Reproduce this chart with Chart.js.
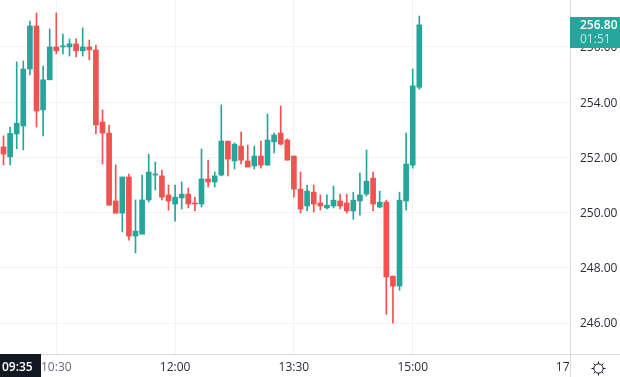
<!DOCTYPE html>
<html>
<head>
<meta charset="utf-8">
<title>Candles</title>
<script src="https://cdn.jsdelivr.net/npm/chart.js@4"></script>
<style>
  html, body { margin: 0; padding: 0; background: #fff; }
  #wrap { width: 620px; height: 377px; position: relative; }
</style>
</head>
<body>
<div id="wrap"><canvas id="chart" width="620" height="377"></canvas></div>
<script>
// 5 minute candles
const times = ['09:50','09:55','10:00','10:05','10:10','10:15','10:20','10:25','10:30','10:35','10:40','10:45','10:50','10:55','11:00','11:05',
  '11:10','11:15','11:20','11:25','11:30','11:35','11:40','11:45','11:50','11:55','12:00','12:05','12:10','12:15','12:20','12:25',
  '12:30','12:35','12:40','12:45','12:50','12:55','13:00','13:05','13:10','13:15','13:20','13:25','13:30','13:35','13:40','13:45',
  '13:50','13:55','14:00','14:05','14:10','14:15','14:20','14:25','14:30','14:35','14:40','14:45','14:50','14:55','15:00','15:05'];
const opens = [252.38,252.02,252.85,253.14,255.20,256.76,253.72,254.81,256.00,256.00,256.00,256.11,255.86,256.00,255.89,253.28,
  252.88,250.42,249.98,251.29,249.15,249.22,250.46,251.36,251.33,250.64,250.31,250.53,250.67,250.35,250.31,251.22,
  251.11,251.36,252.59,251.87,252.41,251.87,251.69,252.05,251.72,252.56,252.88,252.63,252.05,250.85,250.24,250.74,
  250.35,250.17,250.24,250.42,250.35,250.06,250.42,250.67,251.25,250.20,250.38,247.70,247.34,250.42,251.72,254.54];
const closes = [252.12,252.87,253.24,255.20,256.76,253.68,254.81,256.00,255.86,256.04,256.11,255.86,256.00,255.89,253.17,252.88,
  250.27,249.98,251.29,249.15,249.33,250.46,251.47,251.40,250.56,250.42,250.56,250.67,250.31,250.31,251.22,251.11,
  251.33,252.59,251.94,252.48,251.90,251.65,252.05,251.72,252.63,252.81,252.48,251.90,250.85,250.13,250.78,250.31,
  250.24,250.27,250.45,250.24,250.06,250.45,250.64,251.14,250.31,250.38,247.67,247.34,250.45,251.76,254.59,256.80];
const highs = [252.78,253.09,255.46,255.49,256.94,257.23,255.31,256.65,257.23,256.47,256.29,256.29,256.69,256.25,256.07,253.72,
  253.17,251.73,251.29,251.40,250.46,251.36,252.12,251.83,251.54,251.00,251.00,251.11,250.89,250.56,252.30,251.90,
  251.47,253.90,252.59,252.52,252.92,252.45,252.41,252.59,253.57,252.88,253.86,252.67,252.05,251.47,251.00,251.00,
  250.64,250.64,250.96,250.67,250.67,250.74,251.43,252.27,251.47,250.78,250.45,247.70,250.74,252.88,255.20,257.12];
const lows = [251.73,251.73,252.31,252.27,254.99,253.10,252.78,254.81,255.75,255.75,255.67,255.64,255.67,255.53,252.85,251.76,
  250.27,249.98,249.30,249.00,248.54,249.22,250.38,250.82,250.46,250.09,249.69,250.13,250.17,250.06,250.20,250.93,
  250.93,251.33,251.33,251.58,251.76,251.65,251.58,251.61,251.72,252.16,252.45,251.90,250.56,249.98,250.06,250.02,
  250.09,250.13,250.17,250.13,249.98,249.76,249.91,250.60,250.06,250.17,246.32,246.00,247.19,250.09,251.61,254.47];

const priceTicks = [246, 248, 250, 252, 254, 256];
const timeTickAt = [8, 26, 44, 62, 86];
const timeTickLabels = ['10:30', '12:00', '13:30', '15:00', '17:00'];
const lastPrice = '256.80';
const countdown = '01:51';
const crossTime = '09:35';

const UP = '#26a69a', DOWN = '#ef5350', GRID = '#f1f2f5', AXIS = '#d8dadf', TEXT = '#2a2e39';
const FONT = '"Open Sans", sans-serif';
const candleColor = times.map((t, i) => closes[i] >= opens[i] ? UP : DOWN);

// price box, crosshair time box, gear and the corner
const overlay = {
  id: 'overlay',
  afterDraw(chart) {
    const c = chart.ctx, a = chart.chartArea;
    c.save();
    c.fillStyle = '#fff';
    c.fillRect(a.right, a.bottom, 50, 23);
    c.strokeStyle = AXIS;
    c.lineWidth = 1;
    c.beginPath();
    c.moveTo(a.right + .5, a.bottom); c.lineTo(a.right + .5, 377);
    c.moveTo(a.right, a.bottom + .5); c.lineTo(620, a.bottom + .5);
    c.stroke();

    c.fillStyle = UP;
    c.fillRect(a.right, 17, 50, 31);
    c.textBaseline = 'middle';
    c.textAlign = 'left';
    c.fillStyle = '#fff';
    c.font = '600 12px ' + FONT;
    c.fillText(lastPrice, 580, 26);
    c.fillStyle = 'rgba(255,255,255,.75)';
    c.font = '12px ' + FONT;
    c.fillText(countdown, 580, 40);

    c.fillStyle = '#131722';
    c.fillRect(0, 354, 41, 23);
    c.fillStyle = '#fff';
    c.font = '600 12px ' + FONT;
    c.fillText(crossTime, 2, 368);

    // settings gear
    const gx = 598.5, gy = 368.5;
    c.strokeStyle = '#131722';
    c.beginPath();
    c.arc(gx, gy, 4.6, 0, Math.PI * 2);
    for (let k = 0; k < 8; k++) {
      const ang = k * Math.PI / 4;
      c.moveTo(gx + Math.cos(ang) * 4.6, gy + Math.sin(ang) * 4.6);
      c.lineTo(gx + Math.cos(ang) * 7, gy + Math.sin(ang) * 7);
    }
    c.stroke();
    c.restore();
  }
};

new Chart(document.getElementById('chart'), {
  type: 'bar',
  data: {
    datasets: [
      { label: 'body', data: times.map((t, i) => ({ x: i, y: [opens[i], closes[i]] })),
        backgroundColor: candleColor, barThickness: 5, minBarLength: 1 },
      { label: 'wick', data: times.map((t, i) => ({ x: i, y: [lows[i], highs[i]] })),
        backgroundColor: candleColor, barThickness: 1 }
    ]
  },
  options: {
    responsive: false,
    animation: false,
    grouped: false,
    layout: { padding: 0 },
    plugins: { legend: { display: false }, tooltip: { enabled: false }, title: { display: false } },
    scales: {
      x: {
        type: 'linear', offset: false, min: -0.53, max: 85.83,
        afterBuildTicks: s => { s.ticks = timeTickAt.map(v => ({ value: v })); },
        afterFit: s => { s.height = 23; s.paddingLeft = 0; s.paddingRight = 0; },
        // the 17:00 line falls just past the price axis
        grid: { color: c => c.index === 4 ? 'rgba(0,0,0,0)' : GRID, offset: false, drawTicks: false },
        border: { color: AXIS },
        ticks: {
          autoSkip: false, maxRotation: 0, padding: 6,
          color: c => c.index === 0 ? '#6a6d78' : TEXT,
          font: c => ({ family: FONT, size: 12, weight: c.index === 0 ? '400' : '500' }),
          callback: (v, i) => timeTickLabels[i]
        }
      },
      y: {
        position: 'right', min: 244.88, max: 257.70,
        afterBuildTicks: s => { s.ticks = priceTicks.map(v => ({ value: v })); },
        afterFit: s => { s.width = 50; s.paddingTop = 0; s.paddingBottom = 0; },
        grid: { color: GRID, drawTicks: false },
        border: { color: AXIS },
        ticks: {
          padding: 10, color: TEXT, labelOffset: 1,
          font: { family: FONT, size: 12 },
          callback: v => v.toFixed(2)
        }
      }
    }
  },
  plugins: [overlay]
});
</script>
</body>
</html>
